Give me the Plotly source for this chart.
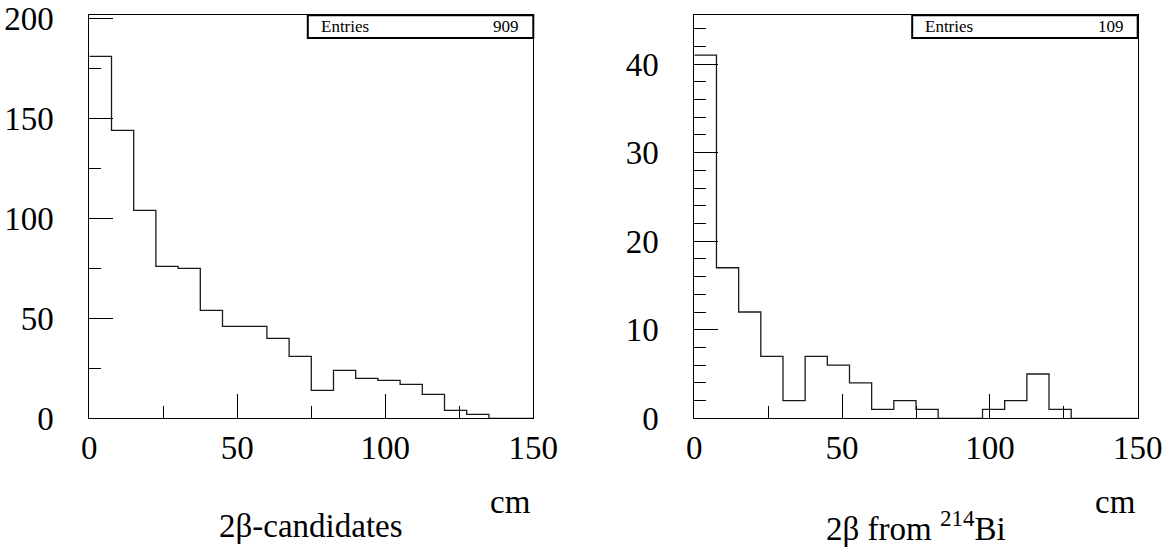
import plotly.graph_objects as go

# ---- data ----
bin_width = 7.5
n_bins = 20
bin_edges = [i * bin_width for i in range(n_bins + 1)]

left_counts = [181, 144, 104, 76, 75, 54, 46, 46, 40, 31,
               14, 24, 20, 19, 17, 12, 4, 2, 0, 0]
right_counts = [41, 17, 12, 7, 2, 7, 6, 4, 1, 2,
                1, 0, 0, 1, 2, 5, 1, 0, 0, 0]

x_ticks = [0, 50, 100, 150]
left_y_ticks = [0, 50, 100, 150, 200]
right_y_ticks = [0, 10, 20, 30, 40]

left_title = "2β-candidates"
right_title = "2β from <sup>214</sup>Bi"
x_unit = "cm"

# ---- layout constants ----
W, H = 1169, 548
FONT = "Liberation Serif, Times New Roman, Times, serif"
L_X0, L_X1 = 89.3, 533.3
R_X0, R_X1 = 694.3, 1137.7
Y_TOP, Y_BOT = 15.3, 418.3


def px(x):
    return x / W


def py(y):
    return 1 - y / H


fig = go.Figure()


def step_xy(counts):
    xs = list(bin_edges)
    ys = list(counts) + [counts[-1]]
    return xs, ys


for counts, xa, ya in [(left_counts, "x", "y"), (right_counts, "x2", "y2")]:
    xs, ys = step_xy(counts)
    fig.add_trace(go.Scatter(x=xs, y=ys, mode="lines", line_shape="hv",
                             line=dict(color="#1a1a1a", width=1.3),
                             xaxis=xa, yaxis=ya, showlegend=False,
                             hoverinfo="skip"))

axis_common = dict(showline=True, linecolor="black", linewidth=1, mirror=True,
                   showgrid=False, zeroline=False, ticks="inside",
                   tickcolor="black", tickwidth=1, ticklen=24,
                   automargin=False,
                   tickfont=dict(family=FONT, size=33, color="black"))

fig.update_layout(
    width=W, height=H, margin=dict(l=0, r=0, t=0, b=0),
    paper_bgcolor="white", plot_bgcolor="white",
    font=dict(family=FONT, color="black"),
    xaxis=dict(domain=[px(L_X0), px(L_X1)], range=[0, 150],
               tickvals=x_ticks, ticklabelstandoff=0,
               minor=dict(ticks="inside", ticklen=12, tickcolor="black",
                          tickmode="linear", tick0=0, dtick=25, showgrid=False),
               anchor="y", **axis_common),
    yaxis=dict(domain=[py(Y_BOT), py(Y_TOP)], range=[0, 201.5],
               tickvals=left_y_ticks, ticklabelstandoff=28,
               minor=dict(ticks="inside", ticklen=12, tickcolor="black",
                          tickmode="linear", tick0=0, dtick=25, showgrid=False),
               anchor="x", **axis_common),
    xaxis2=dict(domain=[px(R_X0), px(R_X1)], range=[0, 150],
                tickvals=x_ticks, ticklabelstandoff=0,
                minor=dict(ticks="inside", ticklen=12, tickcolor="black",
                           tickmode="linear", tick0=0, dtick=25, showgrid=False),
                anchor="y2", **axis_common),
    yaxis2=dict(domain=[py(Y_BOT), py(Y_TOP)], range=[0, 45.5],
                tickvals=right_y_ticks, ticklabelstandoff=28,
                minor=dict(ticks="inside", ticklen=12, tickcolor="black",
                           tickmode="linear", tick0=0, dtick=2, showgrid=False),
                anchor="x2", **axis_common),
)

annotations = []
shapes = []
for x0, x1, counts, title in [(L_X0, L_X1, left_counts, left_title),
                              (R_X0, R_X1, right_counts, right_title)]:
    # stats box
    bx0 = x1 - 225.5
    shapes.append(dict(type="rect", xref="paper", yref="paper",
                       x0=px(bx0), x1=px(x1), y0=py(38), y1=py(Y_TOP),
                       line=dict(color="black", width=2), fillcolor="white"))
    annotations.append(dict(text="Entries", xref="paper", yref="paper",
                            x=px(bx0 + 11), y=py(26.5), xanchor="left",
                            yanchor="middle", showarrow=False,
                            font=dict(family=FONT, size=17, color="black")))
    annotations.append(dict(text=str(sum(counts)), xref="paper", yref="paper",
                            x=px(x1 - 12), y=py(26.5), xanchor="right",
                            yanchor="middle", showarrow=False,
                            font=dict(family=FONT, size=17, color="black")))
    # unit label
    annotations.append(dict(text=x_unit, xref="paper", yref="paper",
                            x=px(x1), y=py(502), xanchor="right",
                            yanchor="middle", showarrow=False,
                            font=dict(family=FONT, size=33, color="black")))
    # title
    annotations.append(dict(text=title, xref="paper", yref="paper",
                            x=px((x0 + x1) / 2), y=py(526), xanchor="center",
                            yanchor="middle", showarrow=False,
                            font=dict(family=FONT, size=33, color="black")))

fig.update_layout(annotations=annotations, shapes=shapes)

fig.write_html("out.html",
               config={"displayModeBar": False},
               post_script="document.body.style.margin='0';"
                           "document.body.style.overflow='hidden';")
